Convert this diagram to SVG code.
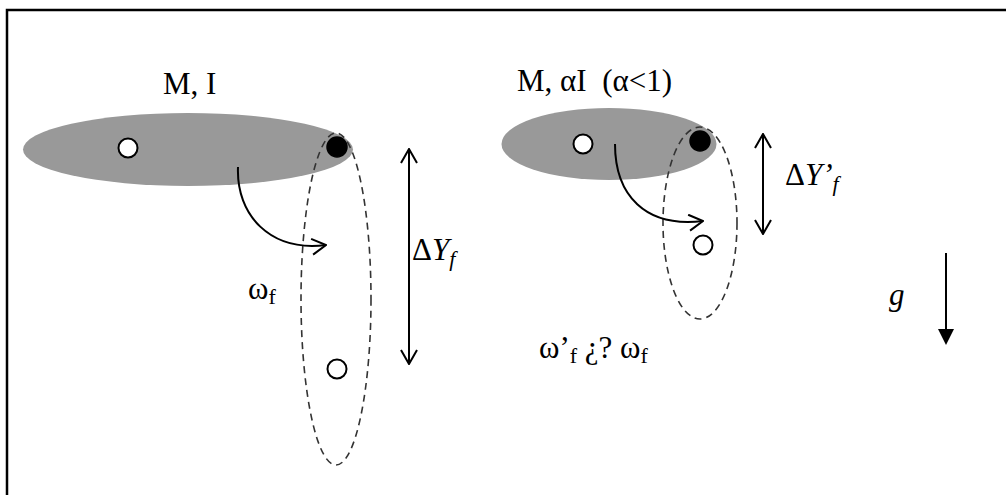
<svg xmlns="http://www.w3.org/2000/svg" width="1006" height="495" viewBox="0 0 1006 495">
<style>
  text { font-family: 'Liberation Serif', 'DejaVu Serif', serif; font-size: 31px; fill: #000; }
  .it { font-style: italic; }
  .body { fill: #999999; stroke: none; }
  .dash { fill: none; stroke: #333; stroke-width: 1.6; stroke-dasharray: 7 5; }
  .open { fill: #fff; stroke: #000; stroke-width: 2; }
  .solid { fill: #000; stroke: #000; stroke-width: 1.5; }
  .line { fill: none; stroke: #000; stroke-width: 2; }
</style>
<defs>
  <marker id="chev" viewBox="0 0 16 18" refX="15" refY="9" markerWidth="16" markerHeight="18" markerUnits="userSpaceOnUse" orient="auto-start-reverse">
    <path d="M1,1 L15,9 L1,17" fill="none" stroke="#000" stroke-width="2"/>
  </marker>
</defs>
<rect x="7" y="10" width="1010" height="500" fill="#fff" stroke="#000" stroke-width="2.5"/>

<g id="body-left">
  <ellipse class="body" cx="188" cy="149.5" rx="165" ry="36.5"/>
  <circle class="open" cx="128" cy="148" r="9.5"/>
  <ellipse class="dash" cx="336" cy="299" rx="35" ry="166"/>
  <circle class="solid" cx="337" cy="147" r="10"/>
  <circle class="open" cx="337" cy="369" r="9.5"/>
  <text x="163" y="94" font-family="Liberation Serif, serif">M, I</text>
  <text x="248" y="299" font-family="Liberation Serif, serif">ω<tspan font-size="22" dy="5">f</tspan></text>
</g>

<g id="body-right">
  <ellipse class="body" cx="609" cy="144" rx="107.5" ry="36"/>
  <circle class="open" cx="583" cy="144" r="9.5"/>
  <ellipse class="dash" cx="700" cy="223" rx="37" ry="96"/>
  <circle class="solid" cx="700" cy="141" r="10"/>
  <circle class="open" cx="703" cy="245" r="9.5"/>
  <text x="517" y="91" font-family="Liberation Serif, serif" xml:space="preserve">M, αI  (α&lt;1)</text>
</g>

<g id="labels">
  <text x="412" y="260" font-family="Liberation Serif, serif">Δ<tspan class="it">Y</tspan><tspan class="it" font-size="22" dy="6">f</tspan></text>
  <text x="785" y="185" font-family="Liberation Serif, serif">Δ<tspan class="it">Y’</tspan><tspan class="it" font-size="22" dy="6">f</tspan></text>
  <text x="539" y="358" font-family="Liberation Serif, serif" xml:space="preserve">ω’<tspan font-size="22" dy="5">f</tspan><tspan dy="-5"> ¿? ω</tspan><tspan font-size="22" dy="5">f</tspan></text>
  <text class="it" x="889" y="305" font-family="Liberation Serif, serif">g</text>
</g>

<g id="connectors">
  <path class="line" d="M238,167 C236,215 270,252 326,245" marker-end="url(#chev)"/>
  <path class="line" d="M615,144 C615,195 645,228 703,221" marker-end="url(#chev)"/>
  <line class="line" x1="409" y1="149" x2="409" y2="364" marker-start="url(#chev)" marker-end="url(#chev)"/>
  <line class="line" x1="763" y1="134" x2="763" y2="234" marker-start="url(#chev)" marker-end="url(#chev)"/>
  <line class="line" x1="946" y1="253" x2="946" y2="333"/>
  <path d="M938,329 L954,329 L946,345 Z" fill="#000"/>
</g>
</svg>
